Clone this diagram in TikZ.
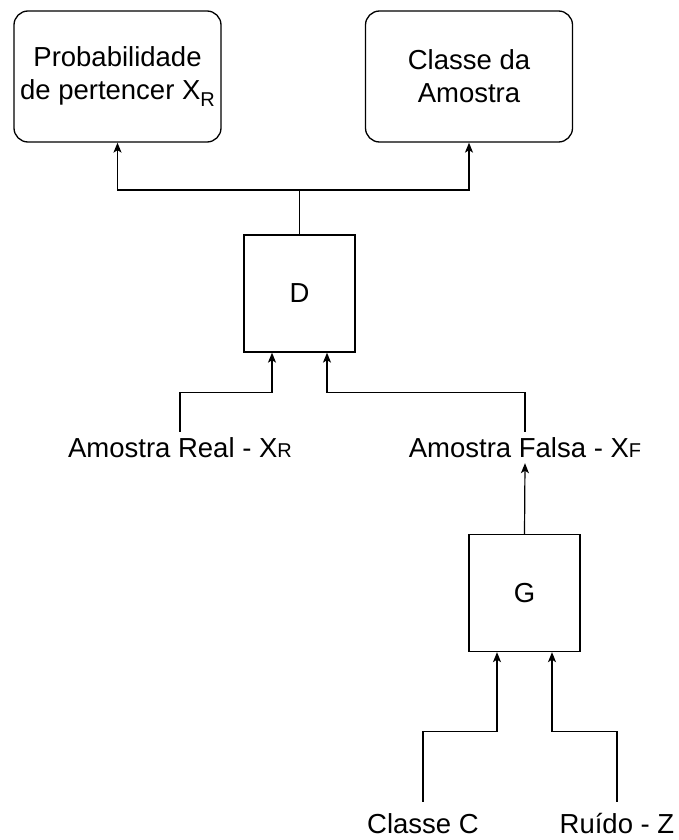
\documentclass[tikz,border=0pt]{standalone}
\usepackage{fontspec}
\setmainfont{Liberation Sans}
\usetikzlibrary{arrows.meta}
\begin{document}
\begin{tikzpicture}[x=1pt,y=-1pt,
  every node/.style={font=\fontsize{27.5}{33}\selectfont},
  rbox/.style={draw, rounded corners=14pt, line width=1.3pt, minimum width=207pt, minimum height=131pt, align=center, inner sep=0pt},
  sqbox/.style={draw, line width=1.3pt, minimum width=111pt, minimum height=117pt, inner sep=0pt},
  conn/.style={line width=1.2pt, -{Stealth[length=10pt,width=8pt,inset=2.5pt]}},
  plain/.style={line width=1.2pt},
  lbl/.style={inner xsep=0pt, inner ysep=5pt, text height=20pt, text depth=1pt, anchor=base},
  lblb/.style={lbl, inner ysep=11pt},
]
\useasboundingbox (0,0) rectangle (678,840);
\fill[white] (0,0) rectangle (678,840);

\node[rbox] (prob) at (117.5,76.5) {Probabilidade\\de pertencer X\raisebox{-7pt}{\fontsize{20}{20}\selectfont R}};
\node[rbox] (cls) at (469,76.5) {Classe da\\Amostra};

\node[sqbox] (D) at (299.5,293.5) {D};
\node[sqbox] (G) at (524.5,593) {G};

\node[lbl] (real) at (180,457) {Amostra Real - X{\fontsize{20}{22}\selectfont R}};
\node[lbl] (fake) at (525,457) {Amostra Falsa - X{\fontsize{20}{22}\selectfont F}};
\node[lblb] (cc) at (423,833) {Classe C};
\node[lblb] (rz) at (617,833) {Ruído - Z};

% top bus
\draw[plain] (D.north) -- (D.north |- 0,190) coordinate (bus);
\draw[conn] (bus) -| (prob.south);
\draw[conn] (bus) -| (cls.south);

% inputs to D
\draw[conn] (real.north) -- ++(0,-39) -| ([xshift=-27.5pt]D.south);
\draw[conn] (fake.north) -- ++(0,-39) -| ([xshift=27.5pt]D.south);

% G output
\draw[conn] (G.north) -- (fake.south);

% inputs to G
\draw[conn] (cc.north) -- ++(0,-70) -| ([xshift=-27.5pt]G.south);
\draw[conn] (rz.north) -- ++(0,-70) -| ([xshift=27.5pt]G.south);
\end{tikzpicture}
\end{document}
